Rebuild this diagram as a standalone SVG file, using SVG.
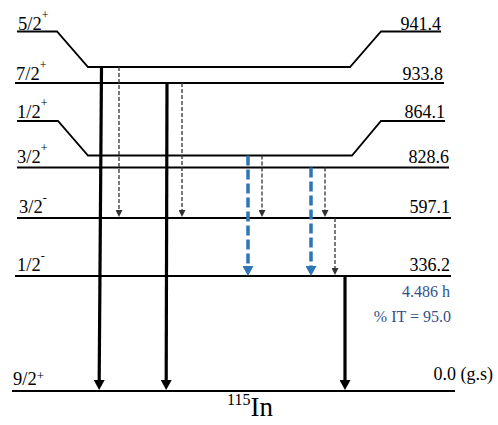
<svg xmlns="http://www.w3.org/2000/svg" width="498" height="425" viewBox="0 0 498 425">
<style>
  .lvl { fill: none; stroke: #000; stroke-width: 1.8; }
  .t { fill: #000; }
  .spin { font-size: 18.5px; }
  .sup { font-size: 12px; }
  .en { font-size: 18px; text-anchor: end; }
  .info { font-size: 16px; fill: #34508a; text-anchor: end; }
  .solid { stroke: #000; stroke-width: 3.2; fill: none; }
  .dash { stroke: #333; stroke-width: 1.3; stroke-dasharray: 4 2; fill: none; }
  .blue { stroke: #2e75b6; stroke-width: 3.5; stroke-dasharray: 10 4; fill: none; }
</style>
<defs>
  <marker id="hSolid" markerUnits="userSpaceOnUse" markerWidth="10" markerHeight="11" refX="0" refY="5.5" orient="auto">
    <path d="M0,0 L10,5.5 L0,11 z" fill="#000"/>
  </marker>
  <marker id="hDash" markerUnits="userSpaceOnUse" markerWidth="7" markerHeight="7" refX="0" refY="3.5" orient="auto">
    <path d="M0,0 L7,3.5 L0,7 z" fill="#333"/>
  </marker>
  <marker id="hBlue" markerUnits="userSpaceOnUse" markerWidth="10" markerHeight="11" refX="0" refY="5.5" orient="auto">
    <path d="M0,0 L10,5.5 L0,11 z" fill="#2e75b6"/>
  </marker>
</defs>
<rect width="498" height="425" fill="#fff"/>

<g font-family="Liberation Serif, Times New Roman, DejaVu Serif, serif">
<g id="level-941">
  <path class="lvl" d="M17,31.5 H57 L88,67 H350 L381,31.5 H441"/>
  <text class="t spin" x="18" y="30">5/2<tspan class="sup" dy="-11">+</tspan></text>
  <text class="t en" x="441" y="30">941.4</text>
</g>
<g id="level-933">
  <path class="lvl" d="M15,83 H444"/>
  <text class="t spin" x="16" y="80">7/2<tspan class="sup" dy="-11">+</tspan></text>
  <text class="t en" x="443" y="80">933.8</text>
</g>
<g id="level-864">
  <path class="lvl" d="M17,121 H58 L88,155.5 H352 L381,121 H445"/>
  <text class="t spin" x="17" y="118">1/2<tspan class="sup" dy="-11">+</tspan></text>
  <text class="t en" x="445" y="118">864.1</text>
</g>
<g id="level-828">
  <path class="lvl" d="M17,167.5 H449"/>
  <text class="t spin" x="17" y="163">3/2<tspan class="sup" dy="-11">+</tspan></text>
  <text class="t en" x="449" y="163">828.6</text>
</g>
<g id="level-597">
  <path class="lvl" d="M17,218 H451"/>
  <text class="t spin" x="19" y="213">3/2<tspan class="sup" dy="-11">-</tspan></text>
  <text class="t en" x="450" y="213">597.1</text>
</g>
<g id="level-336">
  <path class="lvl" d="M15,276 H451"/>
  <text class="t spin" x="17" y="271">1/2<tspan class="sup" dy="-11">-</tspan></text>
  <text class="t en" x="450" y="271">336.2</text>
  <text class="info" x="450" y="297">4.486 h</text>
  <text class="info" x="451" y="322">% IT = 95.0</text>
</g>
<g id="level-gs">
  <path class="lvl" d="M12,391 H455"/>
  <text class="t spin" x="13" y="385">9/2<tspan font-size="13" dy="-5">+</tspan></text>
  <text class="t" x="493" y="380" font-size="18" text-anchor="end">0.0 (g.s)</text>
  <text class="t" x="227" y="416"><tspan font-size="16" dy="-11">115</tspan><tspan font-size="27" dy="11">In</tspan></text>
</g>
</g>

<g id="connectors">
  <line class="solid" x1="101.5" y1="67" x2="99.2" y2="380" marker-end="url(#hSolid)"/>
  <line class="solid" x1="167" y1="83" x2="166.2" y2="380" marker-end="url(#hSolid)"/>
  <line class="solid" x1="345" y1="276" x2="345" y2="380" marker-end="url(#hSolid)"/>
  <line class="dash" x1="119" y1="67" x2="119" y2="210" marker-end="url(#hDash)"/>
  <line class="dash" x1="182" y1="83" x2="182" y2="210" marker-end="url(#hDash)"/>
  <line class="dash" x1="262" y1="155.5" x2="262" y2="210" marker-end="url(#hDash)"/>
  <line class="dash" x1="325" y1="167.5" x2="325" y2="210" marker-end="url(#hDash)"/>
  <line class="dash" x1="335" y1="218" x2="335" y2="268" marker-end="url(#hDash)"/>
  <line class="blue" x1="248" y1="155.5" x2="248" y2="266" marker-end="url(#hBlue)"/>
  <line class="blue" x1="311" y1="167.5" x2="311" y2="266" marker-end="url(#hBlue)"/>
</g>
</svg>
